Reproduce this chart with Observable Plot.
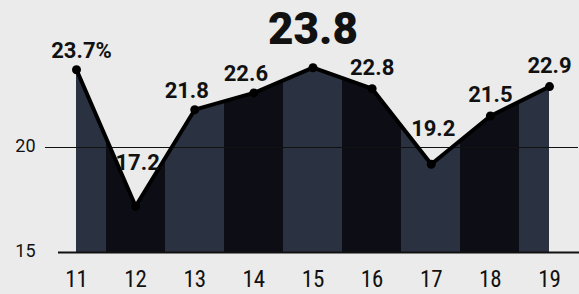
<!DOCTYPE html>
<html>
<head>
<meta charset="utf-8">
<script src="https://cdn.jsdelivr.net/npm/d3@7"></script>
<script src="https://cdn.jsdelivr.net/npm/@observablehq/plot@0.6"></script>
<style>
  html, body { margin: 0; padding: 0; background: #ebebeb; }
  #chart svg { display: block; }
</style>
</head>
<body>
<div id="chart"></div>
<script>
const years = [11, 12, 13, 14, 15, 16, 17, 18, 19];
const values = [23.7, 17.2, 21.8, 22.6, 23.8, 22.8, 19.2, 21.5, 22.9];
const valueLabels = ["23.7%", "17.2", "21.8", "22.6", "23.8", "22.8", "19.2", "21.5", "22.9"];
const yTicks = [15, 20];
const bandColors = ["#2a3140", "#0d0e15"];

const data = years.map((year, i) => ({year, value: values[i], label: valueLabels[i], i}));
const narrow = "'Liberation Sans Narrow', 'Roboto Condensed', Roboto, sans-serif";
const bold = "Roboto, 'Open Sans', sans-serif";

const pick = (idx) => data.filter(d => idx.includes(d.i));
const lab = {x: "year", y: "value", text: "label", fontSize: 22, fontWeight: "bold", fontFamily: bold, fill: "#111"};

const plot = Plot.plot({
  width: 579,
  height: 294,
  marginLeft: 76,
  marginRight: 30,
  marginTop: 42,
  marginBottom: 42,
  style: {background: "#ebebeb", fontFamily: narrow, fontSize: "17px", color: "#111"},
  x: {type: "linear", domain: [11, 19], ticks: years, tickSize: 0, tickPadding: 18, tickFormat: d => String(d), label: null},
  y: {domain: [15, 25], ticks: yTicks, tickSize: 0, tickPadding: 41, label: null},
  marks: [
    Plot.areaY(data, {x: "year", y1: 15, y2: "value", fill: "#2a3140", curve: "linear"}),
    Plot.ruleY([20], {stroke: "#111", strokeWidth: 1.2, insetLeft: -31, insetRight: -29}),
    Plot.ruleY([15], {stroke: "#111", strokeWidth: 2, insetLeft: -18, insetRight: -30}),
    Plot.line(data, {x: "year", y: "value", stroke: "#000", strokeWidth: 4, strokeLinejoin: "round"}),
    Plot.dot(data, {x: "year", y: "value", r: 4.5, fill: "#000"}),
    Plot.text(pick([0]), {...lab, dy: -19, dx: 5}),
    Plot.text(pick([2, 3]), {...lab, dy: -19, dx: -8}),
    Plot.text(pick([5, 7, 8]), {...lab, dy: -21}),
    Plot.text(pick([1]), {...lab, dy: -43, dx: 2}),
    Plot.text(pick([6]), {...lab, dy: -35, dx: 2}),
    Plot.text(pick([4]), {...lab, dy: -38, fontSize: 44, fontWeight: 900})
  ]
});

// Alternating vertical bands under the line, positioned through the x scale
const xs = plot.scale("x");
const W = 579;
const svg = d3.select(plot);
const defs = svg.insert("defs", ":first-child");
const grad = defs.append("linearGradient")
  .attr("id", "bands")
  .attr("gradientUnits", "userSpaceOnUse")
  .attr("x1", 0).attr("x2", W).attr("y1", 0).attr("y2", 0);
years.forEach((y, i) => {
  const a = Math.max(0, xs.apply(y - 0.5)) / W;
  const b = Math.min(W, xs.apply(y + 0.5)) / W;
  const c = bandColors[i % 2];
  grad.append("stop").attr("offset", a).attr("stop-color", c);
  grad.append("stop").attr("offset", b).attr("stop-color", c);
});
svg.selectAll('g[aria-label="area"] path').attr("fill", "url(#bands)");

// Axis text styling
svg.selectAll('g[aria-label^="x-axis"] text').attr("font-size", "23px").attr("fill", "#111");
svg.selectAll('g[aria-label^="y-axis"] text')
  .style("font-size", "18px").style("font-family", bold)
  .attr("fill", "#111").attr("dy", "-0.05em");

document.getElementById("chart").appendChild(plot);
</script>
</body>
</html>
